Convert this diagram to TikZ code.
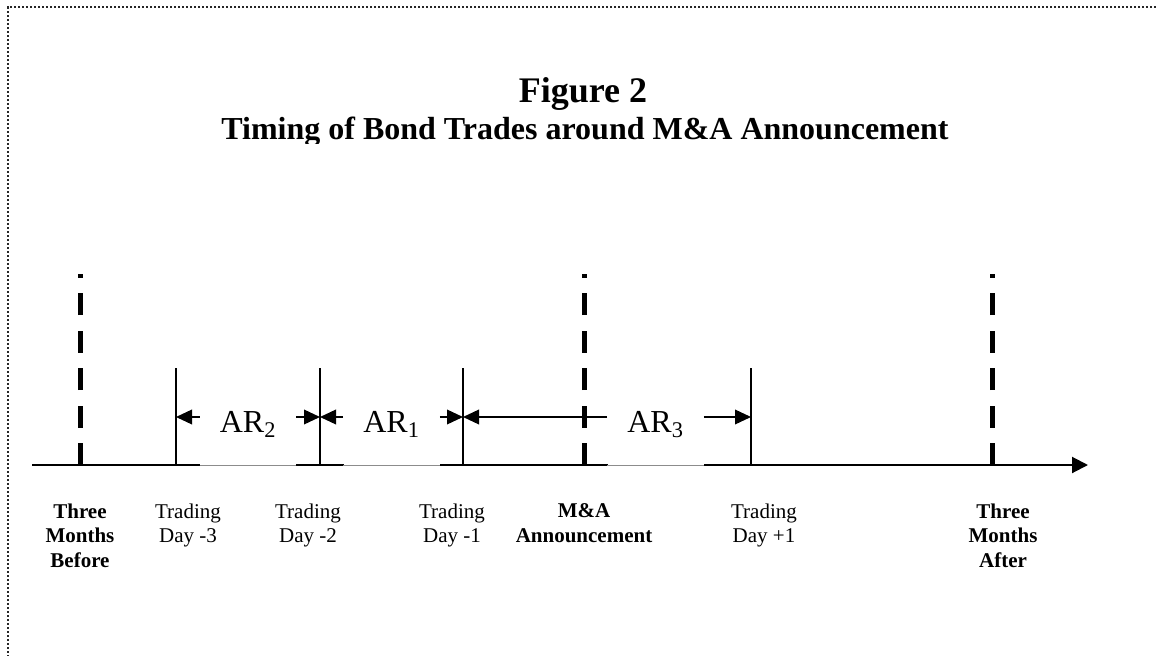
\documentclass[tikz,border=0pt]{standalone}
\usepackage{fontspec}
\setmainfont{Liberation Serif}
\usetikzlibrary{arrows.meta, positioning, calc}

\begin{document}
\begin{tikzpicture}[x=0.75pt, y=-0.75pt,
        event/.style={line width=3.75pt, dash pattern=on 16.5pt off 11.6pt},
        tick/.style={line width=1.5pt},
        window/.style={-{Triangle[length=12pt, width=11pt]}, line width=1.1pt},
        arbox/.style={fill=white, inner sep=0, minimum width=72pt, minimum height=63pt,
            font=\fontsize{24}{28}\selectfont},
        day/.style={align=center, inner sep=0, anchor=north, font=\fontsize{15.75}{18.4}\selectfont},
        bigday/.style={day, font=\fontsize{15.75}{18.4}\selectfont\bfseries}]
                \useasboundingbox (0,0) rectangle (1156,656);
                % frame, running off the page to the right and below
                \draw[black!85, line width=1.5pt, dash pattern=on 1.5pt off 1.5pt] (1156,7.5) -- (7.5,7.5) -- (7.5,656);

                % heading
                \node[anchor=base, font=\fontsize{27}{32}\selectfont\bfseries] (fig) at (583,103) {Figure 2};
                \begin{scope}
                        \clip (0,0) rectangle (1156,143.5);
                        \node[anchor=base, font=\fontsize{24}{28}\selectfont\bfseries] (title) at (585,140)
                                {Timing of Bond Trades around M\&A Announcement};
                \end{scope}

                % time line
                \coordinate (start) at (32,465);
                \coordinate (end) at (1088,465);
                \coordinate (row) at (0,417);
                \foreach \name/\x in {before/80, ann/584, after/992, dm3/176, dm2/320, dm1/463, dp1/751}
                        \coordinate (\name) at (\x,465);
                \draw[line width=1.5pt, -{Triangle[length=12pt, width=12pt]}] (start) -- (end);
                \foreach \c in {before, ann, after}
                        \draw[event] (\c) -- ++(0,-191);
                \foreach \c in {dm3, dm2, dm1, dp1}
                        \draw[tick] (\c) -- ++(0,-97);

                % return windows
                \node[arbox] (ar2) at (248,424.5) {AR\textsubscript{2}};
                \node[arbox] (ar1) at (391.5,424.5) {AR\textsubscript{1}};
                \node[arbox] (ar3) at (655.5,424.5) {AR\textsubscript{3}};
                \foreach \b in {ar2, ar1, ar3}
                        \draw[black!45, line width=0.75pt] (\b.west |- start) -- (\b.east |- start);
                \draw[window] (ar2.west |- row) -- (dm3 |- row);
                \draw[window] (ar2.east |- row) -- (dm2 |- row);
                \draw[window] (ar1.west |- row) -- (dm2 |- row);
                \draw[window] (ar1.east |- row) -- (dm1 |- row);
                \draw[window] (ar3.west |- row) -- (dm1 |- row);
                \draw[window] (ar3.east |- row) -- (dp1 |- row);

                % dates
                \node[bigday] (lbefore) at (80,503.5) {Three\\Months\\Before};
                \node[day] (ldm3) at (188,503.5) {Trading\\Day -3};
                \node[day] (ldm2) at (308,503.5) {Trading\\Day -2};
                \node[day] (ldm1) at (452,503.5) {Trading\\Day -1};
                \node[bigday] (lann) at (584,503.5) {M\&A\\Announcement};
                \node[day] (ldp1) at (764,503.5) {Trading\\Day +1};
                \node[bigday] (lafter) at (1003,503.5) {Three\\Months\\After};
        \end{tikzpicture}
\end{document}
